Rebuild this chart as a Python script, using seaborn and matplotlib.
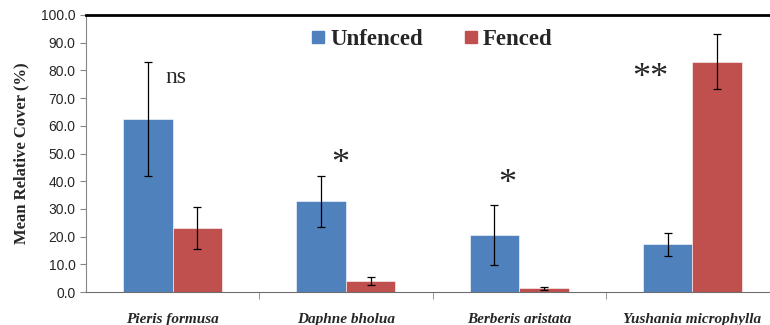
import pandas as pd
import matplotlib.pyplot as plt
import seaborn as sns

SPECIES = ["Pieris formusa", "Daphne bholua", "Berberis aristata", "Yushania microphylla"]
TREATMENTS = ["Unfenced", "Fenced"]
UNFENCED = [62.5, 32.7, 20.5, 17.2]
FENCED = [23.2, 4.0, 1.3, 83.2]
UNFENCED_ERR = [20.6, 9.1, 10.8, 4.2]
FENCED_ERR = [7.5, 1.5, 0.6, 9.9]
SIG_LABELS = ["ns", "*", "*", "**"]
SIG_X = [0.02, 0.97, 1.93, 2.76]
SIG_Y = [77.5, 46.0, 38.8, 77.2]
COLORS = {"Unfenced": "#4F81BD", "Fenced": "#C0504D"}


def main():
    sns.set_style("white")
    plt.rcParams["font.family"] = ["Liberation Serif", "DejaVu Serif"]

    df = pd.DataFrame({
        "species": SPECIES * 2,
        "treatment": ["Unfenced"] * 4 + ["Fenced"] * 4,
        "cover": UNFENCED + FENCED,
        "err": UNFENCED_ERR + FENCED_ERR,
    })

    fig = plt.figure(figsize=(7.7, 3.25), dpi=100)
    ax = fig.add_axes([86 / 770, 33 / 325, 693 / 770, 277 / 325])

    sns.barplot(
        data=df, x="species", y="cover", hue="treatment",
        order=SPECIES, hue_order=TREATMENTS, palette=COLORS, saturation=1,
        width=0.572, errorbar=None, ax=ax, legend=False,
        edgecolor="white", linewidth=0.4,
    )

    # error bars on top of each bar
    for cont, t in zip(ax.containers, TREATMENTS):
        errs = df[df["treatment"] == t]["err"].tolist()
        for patch, e in zip(cont.patches, errs):
            xc = patch.get_x() + patch.get_width() / 2
            ax.errorbar(xc, patch.get_height(), yerr=e, color="black",
                        capsize=2.6, elinewidth=0.9, capthick=0.9)

    for lab, x, y in zip(SIG_LABELS, SIG_X, SIG_Y):
        size = 17 if lab == "ns" else 26
        ax.text(x, y, lab, ha="center", va="center", fontsize=size)

    ax.set_xlim(-0.5, 3.5)
    ax.set_ylim(0, 100)
    ax.set_yticks(range(0, 101, 10))
    ax.set_yticklabels([f"{v:.1f}" for v in range(0, 101, 10)],
                       family="Liberation Sans", fontsize=10)
    ax.tick_params(axis="y", length=4, color="#868686", direction="out", left=True)

    ax.set_xticks(range(4))
    ax.set_xticklabels(SPECIES, fontsize=11, fontweight="bold", fontstyle="italic")
    ax.tick_params(axis="x", which="major", length=0, pad=15)
    ax.set_xticks([0.5, 1.5, 2.5], minor=True)
    ax.tick_params(axis="x", which="minor", length=5, color="#868686", direction="out", bottom=True)

    ax.set_xlabel("")
    ax.set_ylabel("Mean Relative Cover (%)", fontsize=12, fontweight="bold", labelpad=8)

    ax.spines["left"].set_color("#868686")
    ax.spines["bottom"].set_color("#6e6e6e")
    ax.spines["top"].set_color("black")
    ax.spines["top"].set_linewidth(2)
    ax.spines["right"].set_visible(False)

    handles = [plt.Line2D([], [], marker="s", linestyle="", markersize=9,
                          color=COLORS[t]) for t in TREATMENTS]
    ax.legend(handles, TREATMENTS, loc="upper left", bbox_to_anchor=(0.292, 1.023),
              ncol=2, frameon=False, handlelength=0.8, handletextpad=0.12,
              columnspacing=1.7,
              prop={"family": "Liberation Serif", "weight": "bold", "size": 16.5})

    fig.savefig("out.png", dpi=100)
    plt.close(fig)


if __name__ == "__main__":
    main()
